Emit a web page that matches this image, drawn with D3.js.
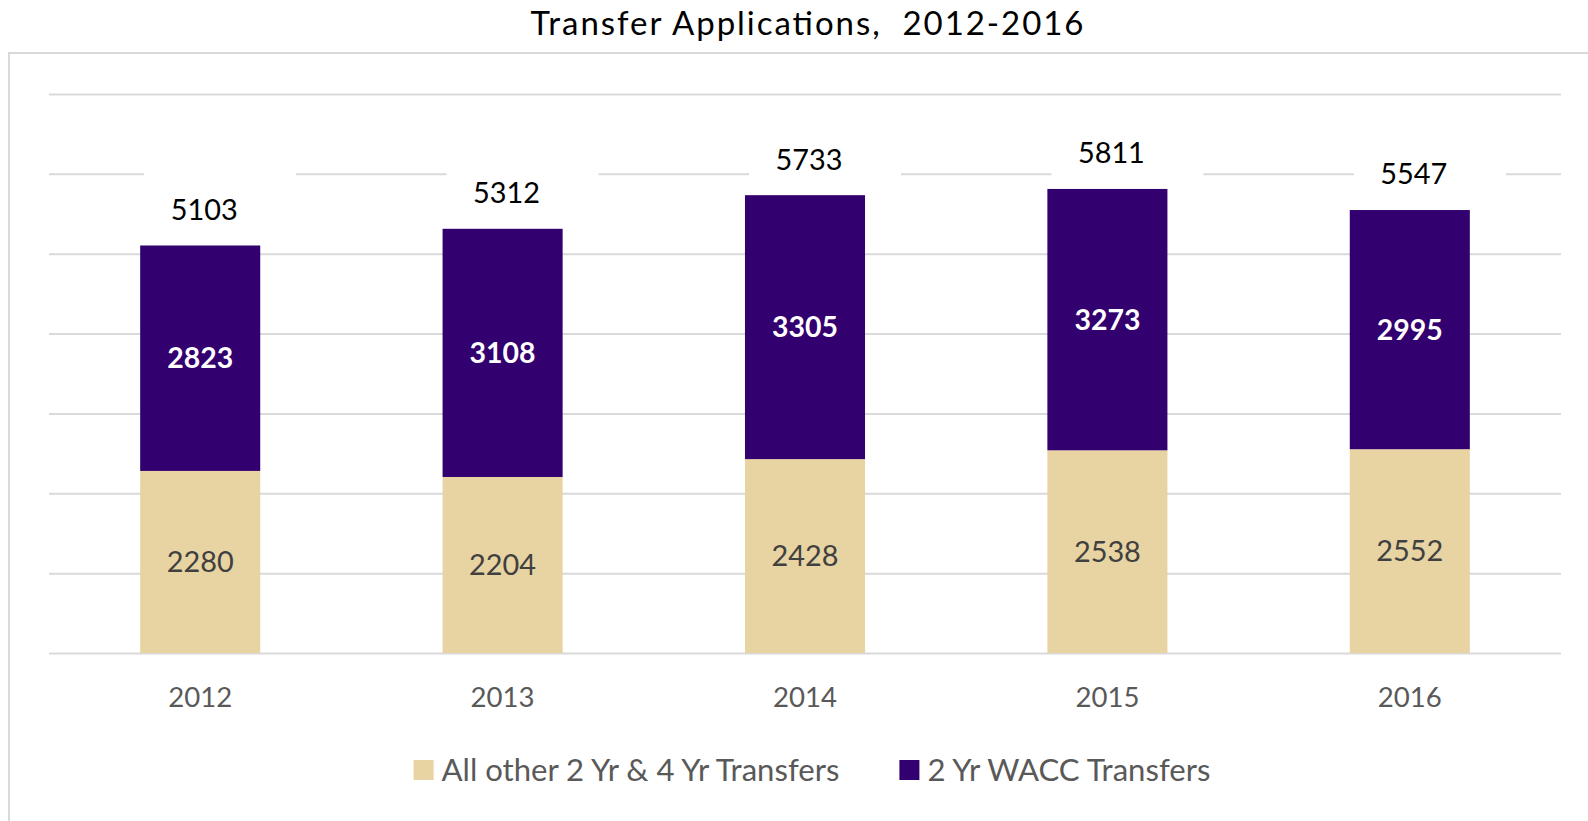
<!DOCTYPE html>
<html>
<head>
<meta charset="utf-8">
<script src="https://cdn.jsdelivr.net/npm/d3@7"></script>
<style>
  html, body { margin: 0; padding: 0; background: #fff; }
  svg { display: block; }
  text { font-family: Lato, "Open Sans", sans-serif; }
</style>
</head>
<body>
<svg id="chart" width="1588" height="821"></svg>
<script>
// ---- data ----
const years = ["2012", "2013", "2014", "2015", "2016"];
const otherTransfers = [2280, 2204, 2428, 2538, 2552];
const waccTransfers = [2823, 3108, 3305, 3273, 2995];
const totals = [5103, 5312, 5733, 5811, 5547];
const seriesNames = ["All other 2 Yr & 4 Yr Transfers", "2 Yr WACC Transfers"];
const yTicks = [0, 1000, 2000, 3000, 4000, 5000, 6000, 7000];
const titleText = "Transfer Applications,  2012-2016";

// ---- styles ----
const colors = { other: "#e8d3a2", wacc: "#33006f" };
const svg = d3.select("#chart");

// helper: font size that makes a string reach a target width
function fitSize(str, weight, target) {
  const t = svg.append("text").attr("font-size", 100).attr("font-weight", weight)
    .style("white-space", "pre").text(str);
  const w = t.node().getComputedTextLength();
  t.remove();
  return 100 * target / w;
}

// chart frame
svg.append("rect").attr("x", 9).attr("y", 53).attr("width", 1700).attr("height", 900)
  .attr("fill", "none").attr("stroke", "#d9d9d9").attr("stroke-width", 2);

const x = d3.scaleBand().domain(years).range([49, 1561]).paddingInner(0.603).paddingOuter(0.3015);
const y = d3.scaleLinear().domain([0, 7000]).range([653, 94]);

// gridlines via axis
const grid = svg.append("g").attr("transform", "translate(49,0)")
  .call(d3.axisLeft(y).tickValues(yTicks).tickSize(-1512).tickFormat(""));
grid.select(".domain").remove();
grid.selectAll(".tick line").attr("stroke", "#d9d9d9").attr("stroke-width", 2);

// x axis labels
const catSize = fitSize("2012", 400, 64);
const xAxis = svg.append("g").attr("transform", "translate(0,653)")
  .call(d3.axisBottom(x).tickSize(0).tickPadding(0));
xAxis.select(".domain").remove();
xAxis.selectAll(".tick text")
  .attr("y", 44).attr("dy", "0.36em")
  .attr("font-size", catSize).attr("fill", "#595959")
  .style("font-family", "Lato, 'Open Sans', sans-serif");

// white label boxes behind totals (cut gridlines like the original)
const totSize = fitSize("5103", 400, 67);
const lift = 36;
svg.append("g").selectAll("rect").data(years).join("rect")
  .attr("x", (d) => x(d) + x.bandwidth() / 2 + 20 - 76)
  .attr("width", 152)
  .attr("y", (d, i) => y(totals[i]) - lift - 40)
  .attr("height", 80)
  .attr("fill", "#fff");

// stacked bars
const rows = years.map((yr, i) => ({ year: yr, other: otherTransfers[i], wacc: waccTransfers[i] }));
const stack = d3.stack().keys(["other", "wacc"])(rows);
svg.append("g").selectAll("g").data(stack).join("g")
  .attr("fill", (s) => colors[s.key])
  .selectAll("rect").data((s) => s).join("rect")
  .attr("x", (d) => x(d.data.year))
  .attr("width", x.bandwidth())
  .attr("y", (d) => y(d[1]))
  .attr("height", (d) => y(d[0]) - y(d[1]));

// segment labels
const segSize = fitSize("2280", 400, 67);
const segBoldSize = fitSize("2823", 700, 66);
stack.forEach((s) => {
  svg.append("g").selectAll("text").data(s).join("text")
    .attr("x", (d) => x(d.data.year) + x.bandwidth() / 2)
    .attr("y", (d) => (y(d[0]) + y(d[1])) / 2)
    .attr("dy", "0.36em")
    .attr("text-anchor", "middle")
    .attr("font-size", s.key === "wacc" ? segBoldSize : segSize)
    .attr("font-weight", s.key === "wacc" ? 700 : 400)
    .attr("fill", s.key === "wacc" ? "#ffffff" : "#404040")
    .text((d) => d.data[s.key]);
});

// totals
svg.append("g").selectAll("text").data(years).join("text")
  .attr("x", (d) => x(d) + x.bandwidth() / 2 + 4)
  .attr("y", (d, i) => y(totals[i]) - lift)
  .attr("dy", "0.36em")
  .attr("text-anchor", "middle")
  .attr("font-size", totSize)
  .attr("fill", "#000")
  .text((d, i) => totals[i]);

// title
svg.append("text").attr("x", 807).attr("y", 35)
  .attr("text-anchor", "middle").attr("font-size", 33).attr("fill", "#000")
  .attr("textLength", 553).attr("lengthAdjust", "spacing")
  .style("white-space", "pre").text(titleText);

// legend
const legSize = fitSize(seriesNames[0], 400, 398);
const legend = svg.append("g");
const keys = ["other", "wacc"];
let cx = 0;
seriesNames.forEach((name, i) => {
  const g = legend.append("g").attr("transform", `translate(${cx},0)`);
  g.append("rect").attr("x", 0).attr("y", -10).attr("width", 20).attr("height", 20)
    .attr("fill", colors[keys[i]]);
  const t = g.append("text").attr("x", 28).attr("y", 0).attr("dy", "0.36em")
    .attr("font-size", legSize).attr("fill", "#595959").text(name);
  const w = 28 + t.node().getComputedTextLength();
  cx += w + 60;
});
const legW = cx - 60;
legend.attr("transform", `translate(${812 - legW / 2},770)`);
</script>
</body>
</html>
